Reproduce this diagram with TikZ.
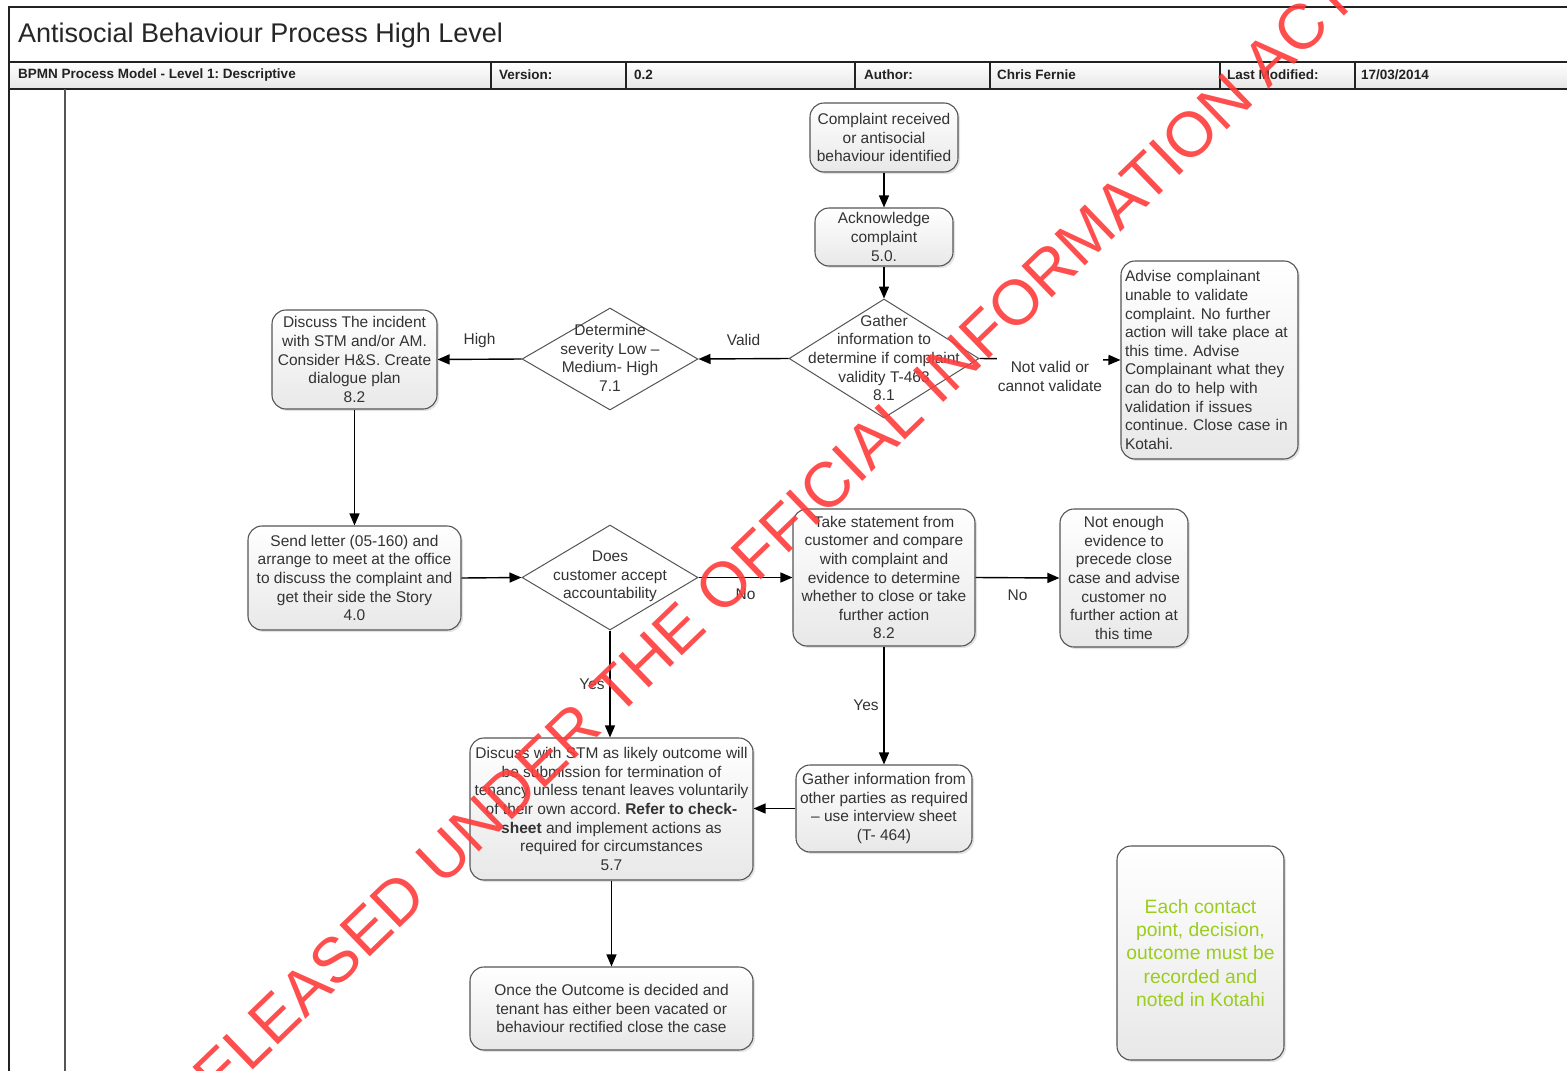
\documentclass[tikz,border=0pt]{standalone}
\usepackage{fontspec}
\setmainfont{Liberation Sans}
\frenchspacing
\usetikzlibrary{shapes.geometric,arrows.meta,shadows}
\definecolor{txt}{HTML}{333333}
\definecolor{bord}{HTML}{555555}
\definecolor{frame}{HTML}{222222}
\definecolor{wm}{HTML}{FF3B3B}
\definecolor{grn}{HTML}{9ACD1E}
\begin{document}
\begin{tikzpicture}[x=1pt,y=-1pt,
  box/.style={draw=bord, line width=1.1pt, rounded corners=14pt, top color=white, bottom color=black!9,
    drop shadow={shadow xshift=2pt, shadow yshift=-2pt, opacity=0.22},
    align=center, text=txt, font=\fontsize{15.5}{18.6}\selectfont, inner sep=0pt},
  diam/.style={draw=bord, line width=1pt, diamond, fill=white, inner sep=0pt},
  dtext/.style={align=center, text=txt, font=\fontsize{15.5}{18.6}\selectfont, inner sep=0pt},
  lbl/.style={text=txt, font=\fontsize{15.5}{18.6}\selectfont, align=center},
  conn/.style={draw=black, line width=1.4pt, -{Triangle[length=12pt,width=10pt]}},
  hdr/.style={anchor=west, font=\fontsize{13.5}{15}\bfseries\selectfont, text=frame, inner sep=0pt},
  frm/.style={draw=frame, line width=1.6pt}
]
\useasboundingbox (0,0) rectangle (1567,1071);
% header
\shade[top color=white, bottom color=black!10] (9,62) rectangle (1567,89);
\draw[frm] (1567,7) -- (9,7) -- (9,1071);
\draw[frm] (9,62) -- (1567,62);
\draw[frm] (9,89) -- (1567,89);
\draw[draw=bord, line width=1.4pt] (65,89) -- (65,1071);
\foreach \xx in {491,626,855,990,1220,1355} \draw[frm, line width=1.2pt] (\xx,62) -- (\xx,89);
\node[anchor=west, inner sep=0pt, font=\fontsize{27}{30}\selectfont, text=black!85] (title) at (18,35.5) {Antisocial Behaviour Process High Level};
\node[hdr] (h1) at (18,75) {BPMN Process Model - Level 1: Descriptive};
\node[hdr] (h2) at (499,75) {Version:};
\node[hdr] (h3) at (634,75) {0.2};
\node[hdr] (h4) at (864,75) {Author:};
\node[hdr] (h5) at (997,75) {Chris Fernie};
\node[hdr] (h6) at (1227,75) {Last Modified:};
\node[hdr] (h7) at (1361,75) {17/03/2014};

% nodes
\node[box, minimum width=148pt, minimum height=69pt] (c1) at (884,137.5) {Complaint received\\or antisocial\\behaviour identified};
\node[box, minimum width=138pt, minimum height=58pt] (ack) at (884,237) {Acknowledge\\complaint\\5.0.};
\node[diam, minimum width=190pt, minimum height=119pt] (gath) at (884,358.5) {};
\node[dtext] (gatht) at (884,358) {Gather\\information to\\determine if complaint\\validity T-463\\8.1};
\node[diam, minimum width=176pt, minimum height=102pt] (det) at (610,359) {};
\node[dtext] (dett) at (610,358) {Determine\\severity Low –\\Medium- High\\7.1};
\node[box, minimum width=165pt, minimum height=99pt] (disc) at (354.5,359.5) {Discuss The incident\\with STM and/or AM.\\Consider H\&S. Create\\dialogue plan\\8.2};
\node[box, minimum width=177pt, minimum height=198pt, text width=169pt, align=left] (adv) at (1209.5,360) {Advise complainant\\unable to validate\\complaint. No further\\action will take place at\\this time. Advise\\Complainant what they\\can do to help with\\validation if issues\\continue. Close case in\\Kotahi.};
\node[box, minimum width=213pt, minimum height=104pt] (send) at (354.5,578) {Send letter (05-160) and\\arrange to meet at the office\\to discuss the complaint and\\get their side the Story\\4.0};
\node[diam, minimum width=176pt, minimum height=105pt] (does) at (610,577.5) {};
\node[dtext] (doest) at (610,576.5) {Does\\customer accept\\accountability};
\node[box, minimum width=182pt, minimum height=137pt] (take) at (884,577.5) {Take statement from\\customer and compare\\with complaint and\\evidence to determine\\whether to close or take\\further action\\8.2};
\node[box, minimum width=128pt, minimum height=138pt] (nen) at (1124,578) {Not enough\\evidence to\\precede close\\case and advise\\customer no\\further action at\\this time};
\node[box, minimum width=176pt, minimum height=87pt] (oth) at (884,808.5) {Gather information from\\other parties as required\\– use interview sheet\\(T- 464)};
\node[box, minimum width=283pt, minimum height=142pt] (stm) at (611.5,809) {Discuss with STM as likely outcome will\\be submission for termination of\\tenancy unless tenant leaves voluntarily\\of their own accord. \textbf{Refer to check-}\\\textbf{sheet} and implement actions as\\required for circumstances\\5.7};
\node[box, minimum width=283pt, minimum height=83pt] (once) at (611.5,1008.5) {Once the Outcome is decided and\\tenant has either been vacated or\\behaviour rectified close the case};
\node[box, minimum width=167pt, minimum height=214pt, text=grn, font=\fontsize{19.3}{23.2}\selectfont] (note) at (1200.5,953) {Each contact\\point, decision,\\outcome must be\\recorded and\\noted in Kotahi};

% connectors
\draw[conn] (c1.south) -- (ack.north);
\draw[conn] (ack.south) -- (gath.north);
\draw[conn] (gath.west) -- (det.east) node[lbl, midway, yshift=19pt] (lv) {Valid};
\draw[conn] (det.west) -- (disc.east) node[lbl, midway, yshift=19pt] (lh) {High};
\draw[conn] (gath.east) -- (adv.west) node[lbl, midway, yshift=-17pt, fill=white, inner xsep=1pt, inner ysep=4pt] (lnv) {Not valid or\\cannot validate};
\draw[conn] (disc.south) -- (send.north);
\draw[conn] (send.east) -- (does.west);
\draw[conn] (does.east) -- (take.west) node[lbl, midway, yshift=-17pt] (ln1) {No};
\draw[conn] (take.east) -- (nen.west) node[lbl, midway, yshift=-17pt] (ln2) {No};
\draw[conn] (does.south) -- (stm.north -| does.south) node[lbl, midway, xshift=-18pt] (ly1) {Yes};
\draw[conn] (take.south) -- (oth.north) node[lbl, midway, xshift=-18pt] (ly2) {Yes};
\draw[conn] (oth.west) -- (stm.east |- oth.west);
\draw[conn] (stm.south) -- (once.north);

% watermark
\begin{scope}
\clip (0,0) rectangle (1567,1071);
\node[text=wm, opacity=0.9, rotate=44, font=\fontsize{63.5}{64}\selectfont, inner sep=0pt] (wmk) at (758,552) {RELEASED UNDER THE OFFICIAL INFORMATION ACT};
\end{scope}
\end{tikzpicture}
\end{document}
